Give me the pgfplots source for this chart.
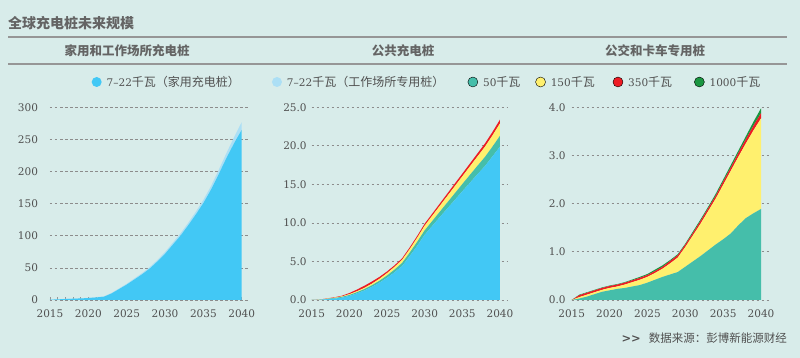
\documentclass[border=0pt]{standalone}
\usepackage{fontspec}
\setmainfont{DejaVu Serif}
\newfontfamily\cjk{Noto Sans CJK SC}
\newfontfamily\numfont{DejaVu Serif}
\usepackage{pgfplots}
\usepackage{pgfplotstable}
\pgfplotsset{compat=1.18}
\definecolor{bg}{RGB}{216,236,234}
\definecolor{homeblue}{RGB}{66,200,245}
\definecolor{workblue}{RGB}{172,223,245}
\definecolor{teal50}{RGB}{69,190,170}
\definecolor{yellow150}{RGB}{255,240,110}
\definecolor{red350}{RGB}{237,28,36}
\definecolor{green1000}{RGB}{26,150,65}
\definecolor{gridgray}{RGB}{140,140,140}
\definecolor{tickgray}{RGB}{80,80,80}
\definecolor{titlegray}{RGB}{100,100,100}
\definecolor{linegray}{RGB}{150,150,150}

\pgfplotstableread{
year home work
2015 0.5 0.1
2016 1 0.2
2017 1.5 0.2
2018 2 0.3
2019 2.5 0.3
2020 3 0.4
2021 4 0.5
2022 5 0.6
2023 10 0.8
2024 17 1.0
2025 24 1.2
2026 32 1.5
2027 40 1.8
2028 49 2.0
2029 60 2.3
2030 72 2.6
2031 86 3.0
2032 100 3.3
2033 116 3.7
2034 133 4.2
2035 151 4.8
2036 172 5.5
2037 196 6.5
2038 221 7.5
2039 244 9.5
2040 265 12
}\tabA

\pgfplotstableread{
year blue teal yellow red
2015 0 0 0 0
2016 0.02 0.01 0.01 0.01
2017 0.10 0.04 0.03 0.03
2018 0.18 0.07 0.05 0.05
2019 0.30 0.10 0.07 0.08
2020 0.53 0.12 0.10 0.15
2021 0.86 0.15 0.12 0.22
2022 1.24 0.18 0.15 0.28
2023 1.70 0.22 0.20 0.28
2024 2.25 0.25 0.25 0.25
2025 2.88 0.30 0.30 0.22
2026 3.60 0.35 0.35 0.20
2027 4.40 0.40 0.40 0.20
2028 5.68 0.45 0.45 0.22
2029 7.02 0.52 0.52 0.24
2030 8.46 0.58 0.60 0.26
2031 9.60 0.64 0.68 0.28
2032 10.74 0.70 0.76 0.30
2033 11.86 0.78 0.84 0.32
2034 12.98 0.86 0.92 0.34
2035 14.10 0.94 1.00 0.36
2036 15.20 1.02 1.10 0.38
2037 16.30 1.10 1.20 0.40
2038 17.37 1.18 1.32 0.43
2039 18.62 1.27 1.45 0.46
2040 19.90 1.40 1.60 0.50
}\tabB

\pgfplotstableread{
year teal yellow red green
2015 0 0 0 0
2016 0.03 0.03 0.04 0.01
2017 0.07 0.04 0.04 0.01
2018 0.12 0.04 0.04 0.01
2019 0.17 0.04 0.04 0.01
2020 0.20 0.05 0.04 0.01
2021 0.23 0.05 0.04 0.01
2022 0.25 0.07 0.04 0.01
2023 0.28 0.09 0.04 0.015
2024 0.31 0.11 0.04 0.02
2025 0.36 0.12 0.04 0.02
2026 0.42 0.14 0.04 0.03
2027 0.48 0.17 0.04 0.03
2028 0.53 0.23 0.05 0.02
2029 0.58 0.30 0.05 0.02
2030 0.69 0.41 0.05 0.02
2031 0.80 0.54 0.05 0.03
2032 0.91 0.67 0.06 0.03
2033 1.03 0.81 0.06 0.03
2034 1.15 0.95 0.06 0.04
2035 1.26 1.13 0.07 0.04
2036 1.38 1.30 0.07 0.05
2037 1.55 1.42 0.08 0.05
2038 1.70 1.55 0.09 0.06
2039 1.80 1.72 0.10 0.08
2040 1.89 1.88 0.11 0.10
}\tabC

\pgfplotsset{
  panel/.style={
    scale only axis, height=192.7pt, anchor=south west,
    xmin=2015, xmax=2041, ymin=0,
    axis line style={draw=none},
    ymajorgrids,
    grid style={gridgray, dash pattern=on 2.5pt off 2.5pt, line width=0.7pt},
    xtick={2015,2020,...,2040},
    tick style={draw=none},
    /pgf/number format/1000 sep={},
    /pgf/number format/assume math mode=true,
    ticklabel style={font=\numfont\fontsize{10.5}{12}\selectfont, text=tickgray},
    xticklabel style={yshift=-6pt},
    stack plots=y,
  }
}

\begin{document}
\begin{tikzpicture}[x=1pt,y=1pt]
\fill[bg] (0pt,0pt) rectangle (800pt,358pt);
\useasboundingbox (0pt,0pt) rectangle (800pt,358pt);

\node[anchor=west, inner sep=0pt, text=titlegray, font=\cjk\bfseries\fontsize{14}{16}\selectfont] at (8pt,335pt) {全球充电桩未来规模};
\draw[linegray, line width=1.2pt] (8pt,321pt) -- (787pt,321pt);
\draw[linegray, line width=1.2pt] (8pt,294pt) -- (787pt,294pt);
\node[inner sep=0pt, text=titlegray, font=\cjk\bfseries\fontsize{12.5}{14}\selectfont] at (127pt,307.5pt) {家用和工作场所充电桩};
\node[inner sep=0pt, text=titlegray, font=\cjk\bfseries\fontsize{12.5}{14}\selectfont] at (403pt,307.5pt) {公共充电桩};
\node[inner sep=0pt, text=titlegray, font=\cjk\bfseries\fontsize{12.5}{14}\selectfont] at (655pt,307.5pt) {公交和卡车专用桩};
\node[anchor=east, inner sep=0pt, text=tickgray, font=\cjk\fontsize{11.5}{13}\selectfont] at (787pt,20pt) {{\numfont\bfseries >>}\hspace{8pt}数据来源：彭博新能源财经};

% Panel 1
\begin{axis}[panel, at={(50pt,58pt)}, width=199.4pt,
  ymax=300, ytick={0,50,...,300},
  yticklabel style={xshift=-8.5pt},
  minor x tick num=4,
  tick pos=left,
  xtick style={draw=linegray, line width=0.6pt},
  ytick style={draw=none},
  major tick length=3pt, minor tick length=3pt, tick align=inside,
  legend columns=6,
  legend image code/.code={\fill (5pt,0pt) circle (5pt);},
  legend style={at={(axis description cs:0.209,1.1313)}, anchor=west,
    draw=none, fill=none, inner sep=0pt, outer sep=0pt,
    column sep=0pt, row sep=0pt,
    nodes={inner sep=0pt, outer sep=0pt, anchor=west, text=tickgray,
      font=\cjk\fontsize{12}{14}\selectfont}},
]
\addplot[fill=homeblue, draw=none] table[x=year, y=home]{\tabA} \closedcycle;
\addplot[fill=workblue, draw=none] table[x=year, y=work]{\tabA} \closedcycle;
\addlegendimage{fill=teal50}
\addlegendimage{fill=yellow150}
\addlegendimage{fill=red350}
\addlegendimage{fill=green1000}
\legend{{\hspace{5pt}\makebox[165.3pt][l]{{\numfont\fontsize{10.5}{12}\selectfont 7–22}千瓦（家用充电桩）}},
  {\hspace{5pt}\makebox[180.7pt][l]{{\numfont\fontsize{10.5}{12}\selectfont 7–22}千瓦（工作场所专用桩）}},
  {\hspace{5pt}\makebox[52.3pt][l]{{\numfont\fontsize{10.5}{12}\selectfont 50}千瓦}},
  {\hspace{5pt}\makebox[62pt][l]{{\numfont\fontsize{10.5}{12}\selectfont 150}千瓦}},
  {\hspace{5pt}\makebox[66pt][l]{{\numfont\fontsize{10.5}{12}\selectfont 350}千瓦}},
  {\hspace{5pt}\makebox[55pt][l]{{\numfont\fontsize{10.5}{12}\selectfont 1000}千瓦}}}
\end{axis}

% Panel 2
\begin{axis}[panel, at={(311.7pt,58pt)}, width=195.8pt,
  ymax=25, ytick={0,5,...,25},
  yticklabel style={xshift=-1.5pt, /pgf/number format/.cd, fixed, fixed zerofill, precision=1},
]
\addplot[fill=homeblue, draw=none] table[x=year, y=blue]{\tabB} \closedcycle;
\addplot[fill=teal50, draw=none] table[x=year, y=teal]{\tabB} \closedcycle;
\addplot[fill=yellow150, draw=none] table[x=year, y=yellow]{\tabB} \closedcycle;
\addplot[fill=red350, draw=none] table[x=year, y=red]{\tabB} \closedcycle;
\end{axis}

% Panel 3
\begin{axis}[panel, at={(571.7pt,58pt)}, width=196.9pt,
  ymax=4, ytick={0,1,...,4},
  yticklabel style={xshift=-2.5pt, /pgf/number format/.cd, fixed, fixed zerofill, precision=1},
]
\addplot[fill=teal50, draw=none] table[x=year, y=teal]{\tabC} \closedcycle;
\addplot[fill=yellow150, draw=none] table[x=year, y=yellow]{\tabC} \closedcycle;
\addplot[fill=red350, draw=none] table[x=year, y=red]{\tabC} \closedcycle;
\addplot[fill=green1000, draw=none] table[x=year, y=green]{\tabC} \closedcycle;
\end{axis}
\end{tikzpicture}
\end{document}
